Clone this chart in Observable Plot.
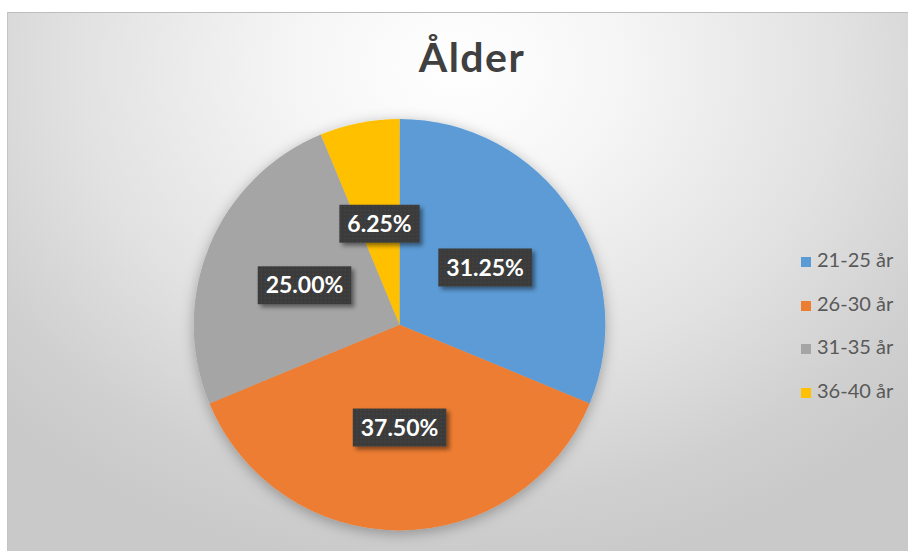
<!DOCTYPE html>
<html><head><meta charset="utf-8">
<script src="https://cdn.jsdelivr.net/npm/d3@7"></script>
<script src="https://cdn.jsdelivr.net/npm/@observablehq/plot@0.6"></script>
<style>
body{margin:0;background:#fff;}
#wrap{position:relative;width:908px;height:551px;overflow:hidden;background:#fff;}
#chart{position:absolute;left:7px;top:12px;width:901px;height:539px;
  background:radial-gradient(ellipse 70% 95% at 50% 10%, #ffffff 0%, #f6f6f6 25%, #e2e2e2 60%, #d0d0d0 85%, #c9c9c9 100%);
  border-top:1px solid #bdbdbd;border-left:1px solid #c4c4c4;box-sizing:border-box;}
#chart svg{position:absolute;left:0;top:0;background:transparent;}
#title{position:absolute;left:0;width:928px;top:23px;text-align:center;font:bold 41px Lato,"Open Sans",sans-serif;line-height:41px;color:#404040;letter-spacing:1.5px;}
#legend{position:absolute;left:793px;top:236px;}
.item{height:43.5px;font:20px Lato,"Open Sans",sans-serif;line-height:20px;color:#595959;white-space:nowrap;}
.sw{display:inline-block;width:10px;height:10px;margin-right:6px;vertical-align:0px;}
</style></head>
<body>
<div id="wrap"><div id="chart"><div id="title"></div><div id="legend"></div></div></div>
<script>
const title = "Ålder";
const categories = ["21-25 år", "26-30 år", "31-35 år", "36-40 år"];
const shares = [31.25, 37.50, 25.00, 6.25];
const valueLabels = ["31.25%", "37.50%", "25.00%", "6.25%"];
const colors = ["#5B9BD5", "#ED7D31", "#A5A5A5", "#FFC000"];

const data = categories.map((c, i) => ({category: c, value: shares[i], label: valueLabels[i]}));
const color = Plot.scale({color: {domain: categories, range: colors}});

const measure = document.createElement("canvas").getContext("2d");

function pieMark(index, scales, values, dims, context) {
  const cx = scales.x(0), cy = scales.y(0), r = scales.x(1) - scales.x(0);
  const g = d3.create("svg:g");
  const defs = g.append("defs");
  const f1 = defs.append("filter").attr("id", "pieShadow").attr("x", "-20%").attr("y", "-20%").attr("width", "140%").attr("height", "140%");
  f1.append("feDropShadow").attr("dx", 0).attr("dy", 3).attr("stdDeviation", 7).attr("flood-color", "#000").attr("flood-opacity", 0.3);
  const f2 = defs.append("filter").attr("id", "lblShadow").attr("x", "-20%").attr("y", "-30%").attr("width", "150%").attr("height", "170%");
  f2.append("feDropShadow").attr("dx", 3).attr("dy", 3).attr("stdDeviation", 2).attr("flood-color", "#000").attr("flood-opacity", 0.45);
  const pat = defs.append("pattern").attr("id", "dots").attr("width", 4).attr("height", 4).attr("patternUnits", "userSpaceOnUse");
  pat.append("rect").attr("width", 4).attr("height", 4).attr("fill", "#3b3b3b");
  pat.append("rect").attr("x", 1).attr("y", 1).attr("width", 1).attr("height", 1).attr("fill", "#4f4f4f");

  const arcs = d3.pie().sort(null).value(d => d.value)(data);
  const arc = d3.arc().innerRadius(0).outerRadius(r);
  const pie = g.append("g").attr("transform", `translate(${cx},${cy})`).attr("filter", "url(#pieShadow)");
  pie.selectAll("path").data(arcs).join("path")
    .attr("d", arc).attr("fill", d => color.apply(d.data.category));

  const font = "bold 23px Lato";
  measure.font = font;
  const lg = g.append("g");
  for (const a of arcs) {
    const m = (a.startAngle + a.endAngle) / 2;
    const x = scales.x(0.5 * Math.sin(m)), y = scales.y(0.5 * Math.cos(m));
    const tw = measure.measureText(a.data.label).width;
    const w = tw + 16, h = 38;
    lg.append("rect").attr("x", x - w / 2).attr("y", y - h / 2).attr("width", w).attr("height", h)
      .attr("fill", "url(#dots)").attr("filter", "url(#lblShadow)");
    lg.append("text").attr("x", x).attr("y", y + 8.2).attr("text-anchor", "middle")
      .attr("fill", "#fff").style("font", font).text(a.data.label);
  }
  return g.node();
}

const chart = Plot.plot({
  width: 901,
  height: 539,
  margin: 0,
  style: {background: "transparent", overflow: "visible"},
  x: {domain: [-1, 1], range: [186, 598], axis: null},
  y: {domain: [-1, 1], range: [518, 106], axis: null},
  marks: [pieMark]
});
document.getElementById("chart").prepend(chart);
document.getElementById("title").textContent = title;

const legend = d3.select("#legend");
categories.forEach(c => {
  const it = legend.append("div").attr("class", "item");
  it.append("span").attr("class", "sw").style("background", color.apply(c));
  it.append("span").text(c);
});
</script>
</body></html>
